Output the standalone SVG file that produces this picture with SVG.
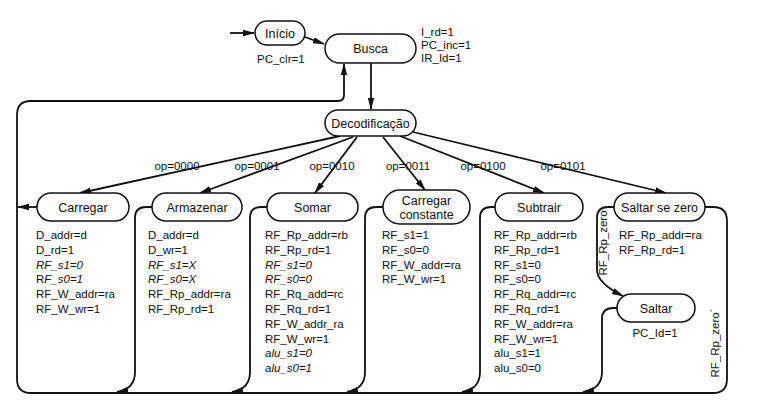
<svg xmlns="http://www.w3.org/2000/svg" width="759" height="402" viewBox="0 0 759 402">
<defs>
<marker id="ah" markerWidth="12" markerHeight="8" refX="11" refY="4" orient="auto" markerUnits="userSpaceOnUse">
<path d="M0,0.8 L12,4 L0,7.2 Z" fill="#111"/>
</marker>
<style>
.st{fill:#fff;stroke:#111;stroke-width:1.5}
.c{fill:none;stroke:#111;stroke-width:1.8}
text{font-family:"Liberation Sans",Arial,sans-serif;fill:#111}
.n{font-size:12.5px;text-anchor:middle}
.t{font-size:11.5px}
.i{font-style:italic}
.lb{font-size:11.5px;text-anchor:middle}
</style>
</defs>
<rect width="759" height="402" fill="#fff"/>
<g id="connectors">
<path class="c" d="M230,33 H254" marker-end="url(#ah)"/>
<path class="c" d="M305,37 L324,44" marker-end="url(#ah)"/>
<path class="c" d="M371,63 V109" marker-end="url(#ah)"/>
<path class="c" d="M705,207 H713 Q727,207 727,221 V379 Q727,393 713,393 H31 Q17,393 17,379 V115 Q17,101 31,101 H338 Q344,101 344,95 V64" marker-end="url(#ah)"/>
<path class="c" d="M37,207 H18" marker-end="url(#ah)"/>
<path class="c" d="M152,207 H146 Q135,207 135,218 V372 Q135,389 117,392" marker-end="url(#ah)"/>
<path class="c" d="M267,207 H261 Q250,207 250,218 V372 Q250,389 232,392" marker-end="url(#ah)"/>
<path class="c" d="M383,207 H376 Q365,207 365,218 V372 Q365,389 347,392" marker-end="url(#ah)"/>
<path class="c" d="M495,207 H491 Q480,207 480,218 V372 Q480,389 462,392" marker-end="url(#ah)"/>
<path class="c" d="M617,308 H613 Q602,308 602,319 V372 Q602,389 583,392" marker-end="url(#ah)"/>
<path class="c" d="M614,207 H608 Q597,207 597,218 V270 Q597,283 623,296" marker-end="url(#ah)"/>
<path class="c" d="M340,136 L80,193" marker-end="url(#ah)"/>
<path class="c" d="M353,137 L200,193" marker-end="url(#ah)"/>
<path class="c" d="M357,137 L315,193" marker-end="url(#ah)"/>
<path class="c" d="M383,137 L425,190" marker-end="url(#ah)"/>
<path class="c" d="M400,136 L544,193" marker-end="url(#ah)"/>
<path class="c" d="M413,132 L666,193" marker-end="url(#ah)"/>
<text class="lb" x="177" y="170">op=0000</text>
<text class="lb" x="257" y="170">op=0001</text>
<text class="lb" x="332" y="170">op=0010</text>
<text class="lb" x="408" y="170">op=0011</text>
<text class="lb" x="483" y="170">op=0100</text>
<text class="lb" x="563" y="170">op=0101</text>
<text class="t" transform="translate(607,243) rotate(-90)" text-anchor="middle">RF_Rp_zero</text>
<text class="t" transform="translate(719,343) rotate(-90)" text-anchor="middle">RF_Rp_zero´</text>
</g>
<g id="inicio">
<rect class="st" x="255" y="21" width="50" height="24" rx="12"/>
<text class="n" x="280" y="37.5">Início</text>
<text class="t" x="257" y="63">PC_clr=1</text>
</g>
<g id="busca">
<rect class="st" x="325" y="34" width="91" height="29" rx="14.5"/>
<text class="n" x="370.5" y="53">Busca</text>
<text class="t" x="421" y="36">I_rd=1</text>
<text class="t" x="421" y="49">PC_inc=1</text>
<text class="t" x="421" y="62">IR_Id=1</text>
</g>
<g id="decodificacao">
<rect class="st" x="325" y="110" width="91" height="26" rx="13"/>
<text class="n" x="370.5" y="127.5">Decodificação</text>
</g>
<g id="carregar">
<rect class="st" x="37" y="193" width="92" height="28" rx="14"/>
<text class="n" x="83" y="211.5">Carregar</text>
<text class="t" x="36" y="239">D_addr=d</text>
<text class="t" x="36" y="253.8">D_rd=1</text>
<text class="t i" x="36" y="268.6">RF_s1=0</text>
<text class="t" x="36" y="283.4">R<tspan class="i">F_s0=1</tspan></text>
<text class="t" x="36" y="298.2">RF_W_addr=ra</text>
<text class="t" x="36" y="313">RF_W_wr=1</text>
</g>
<g id="armazenar">
<rect class="st" x="152" y="193" width="90" height="28" rx="14"/>
<text class="n" x="197" y="211.5">Armazenar</text>
<text class="t" x="148" y="239">D_addr=d</text>
<text class="t" x="148" y="253.8">D_wr=1</text>
<text class="t i" x="148" y="268.6">RF_s1=X</text>
<text class="t i" x="148" y="283.4">RF_s0=X</text>
<text class="t" x="148" y="298.2">RF_Rp_addr=ra</text>
<text class="t" x="148" y="313">RF_Rp_rd=1</text>
</g>
<g id="somar">
<rect class="st" x="267" y="193" width="91" height="28" rx="14"/>
<text class="n" x="312.5" y="211.5">Somar</text>
<text class="t" x="265" y="239">RF_Rp_addr=rb</text>
<text class="t" x="265" y="253.8">RF_Rp_rd=1</text>
<text class="t i" x="265" y="268.6">RF_s1=0</text>
<text class="t i" x="265" y="283.4">RF_s0=0</text>
<text class="t" x="265" y="298.2">RF_Rq_add=rc</text>
<text class="t" x="265" y="313">RF_Rq_rd=1</text>
<text class="t" x="265" y="327.8">RF_W_addr_ra</text>
<text class="t" x="265" y="342.6">RF_W_wr=1</text>
<text class="t i" x="265" y="357.4">alu_s1=0</text>
<text class="t i" x="265" y="372.2">alu_s0=1</text>
</g>
<g id="carregar-constante">
<rect class="st" x="383" y="190" width="87" height="34" rx="17"/>
<text class="n" x="426.5" y="204.5">Carregar</text>
<text class="n" x="426.5" y="218.5">constante</text>
<text class="t" x="382" y="239">RF_s1=1</text>
<text class="t" x="382" y="253.8">RF_s0=0</text>
<text class="t" x="382" y="268.6">RF_W_addr=ra</text>
<text class="t" x="382" y="283.4">RF_W_wr=1</text>
</g>
<g id="subtrair">
<rect class="st" x="495" y="193" width="88" height="28" rx="14"/>
<text class="n" x="539" y="211.5">Subtrair</text>
<text class="t" x="494" y="239">RF_Rp_addr=rb</text>
<text class="t" x="494" y="253.8">RF_Rp_rd=1</text>
<text class="t" x="494" y="268.6">RF_s1=0</text>
<text class="t" x="494" y="283.4">RF_s0=0</text>
<text class="t" x="494" y="298.2">RF_Rq_addr=rc</text>
<text class="t" x="494" y="313">RF_Rq_rd=1</text>
<text class="t" x="494" y="327.8">RF_W_addr=ra</text>
<text class="t" x="494" y="342.6">RF_W_wr=1</text>
<text class="t" x="494" y="357.4">alu_s1=1</text>
<text class="t" x="494" y="372.2">alu_s0=0</text>
</g>
<g id="saltar-se-zero">
<rect class="st" x="614" y="193" width="91" height="28" rx="14"/>
<text class="n" x="659.5" y="211.5">Saltar se zero</text>
<text class="t" x="619" y="239">RF_Rp_addr=ra</text>
<text class="t" x="619" y="253.8">RF_Rp_rd=1</text>
</g>
<g id="saltar">
<rect class="st" x="617" y="294" width="78" height="28" rx="14"/>
<text class="n" x="656" y="312.5">Saltar</text>
<text class="t" x="655" y="337" text-anchor="middle">PC_Id=1</text>
</g>
</svg>
